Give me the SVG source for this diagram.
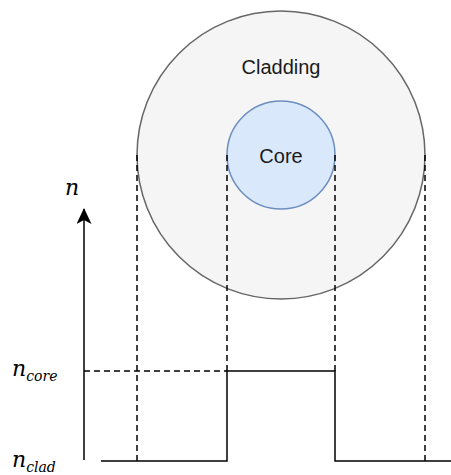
<svg xmlns="http://www.w3.org/2000/svg" width="451" height="475" viewBox="0 0 451 475">
<defs>
<style>
.dash{stroke:#000;stroke-width:1.5;stroke-dasharray:6 4;fill:none}
.solid{stroke:#000;stroke-width:1.5;fill:none}
.lbl{font-family:"Liberation Sans",Arial,sans-serif;font-size:20px;fill:#1a1a1a;text-anchor:middle}
.math{font-family:"DejaVu Serif","Liberation Serif",serif;font-style:italic;fill:#000}
</style>
<marker id="arr" markerWidth="16" markerHeight="16" refX="15" refY="7.5" orient="auto" markerUnits="userSpaceOnUse">
<path d="M0,0 L16,7.5 L0,15 L4,7.5 Z" fill="#000"/>
</marker>
</defs>
<rect width="451" height="475" fill="#fff"/>
<g id="cladding">
<circle cx="281" cy="155" r="144" fill="#f5f5f5" stroke="#666666" stroke-width="1.5"/>
<text class="lbl" x="281" y="74">Cladding</text>
</g>
<g id="core">
<circle cx="281" cy="155" r="54" fill="#dae8fc" stroke="#6c8ebf" stroke-width="1.5"/>
<text class="lbl" x="281" y="163">Core</text>
</g>
<g id="connectors">
<line class="dash" x1="137" y1="155" x2="137" y2="461"/>
<line class="dash" x1="227" y1="155" x2="227" y2="371"/>
<line class="dash" x1="335" y1="155" x2="335" y2="371"/>
<line class="dash" x1="425" y1="155" x2="425" y2="461"/>
<line class="dash" x1="84" y1="371" x2="227" y2="371"/>
<line class="solid" x1="84" y1="460" x2="84" y2="209" marker-end="url(#arr)"/>
<polyline class="solid" points="101,461 227,461 227,371 335,371 335,461 451,461"/>
</g>
<g id="labels">
<text class="math" x="65" y="195" font-size="22">n</text>
<text class="math" x="12" y="376" font-size="22">n<tspan font-size="14" dy="5">core</tspan></text>
<text class="math" x="12" y="467" font-size="22">n<tspan font-size="14" dy="5">clad</tspan></text>
</g>
</svg>
